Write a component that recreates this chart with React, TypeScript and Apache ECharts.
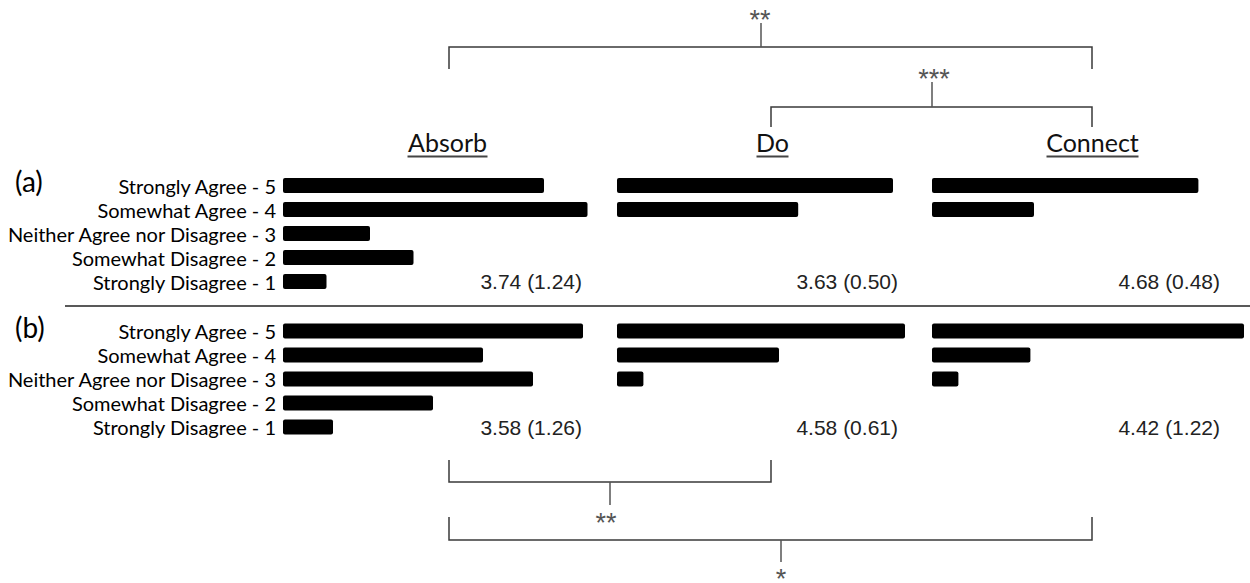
import React, { useEffect, useRef } from 'react';
import * as echarts from 'echarts';

// ---- data ----
const categories = [
  'Strongly Agree - 5',
  'Somewhat Agree - 4',
  'Neither Agree nor Disagree - 3',
  'Somewhat Disagree - 2',
  'Strongly Disagree - 1',
];
const panelNames = ['Absorb', 'Do', 'Connect'];
const rowLabels = ['(a)', '(b)'];
// responses per category
const absorbA = [6, 7, 2, 3, 1];
const doA = [11.5, 7.55, 0, 0, 0];
const connectA = [11.1, 4.25, 0, 0, 0];
const absorbB = [6, 4, 5, 3, 1];
const doB = [12, 6.75, 1.1, 0, 0];
const connectB = [13.5, 4.1, 1.1, 0, 0];
const statsA = ['3.74 (1.24)', '3.63 (0.50)', '4.68 (0.48)'];
const statsB = ['3.58 (1.26)', '4.58 (0.61)', '4.42 (1.22)'];
const sigTop = ['**', '***'];
const sigBottom = ['**', '*'];

// ---- layout ----
const panelLeft = [283, 617, 932];
const rowTop = [173.5, 319];
const rowHeight = 120;
const axisMax = [[8, 13, 13], [8, 13, 13]];
const gridWidth = [[348, 312, 312], [400, 312, 312]];
const statRight = [582, 898, 1220];
const statY = [281.5, 427];
const headX = [447.5, 772.5, 1092.5];
const headHalfW = [40, 16, 46];

const LINE = '#3a3a3a';

export default function App() {
  const ref = useRef<HTMLDivElement>(null);
  useEffect(() => {
    if (!ref.current) return;
    const chart = echarts.init(ref.current, undefined, { renderer: 'svg' });
    const rowsData = [
      [absorbA, doA, connectA],
      [absorbB, doB, connectB],
    ];
    const grids: any[] = [];
    const xAxes: any[] = [];
    const yAxes: any[] = [];
    const series: any[] = [];
    rowsData.forEach((row, r) => {
      row.forEach((vals, p) => {
        const idx = grids.length;
        grids.push({
          left: panelLeft[p],
          top: rowTop[r],
          width: gridWidth[r][p],
          height: rowHeight,
          containLabel: false,
        });
        xAxes.push({ type: 'value', gridIndex: idx, min: 0, max: axisMax[r][p], show: false });
        yAxes.push({
          type: 'category',
          gridIndex: idx,
          data: categories,
          inverse: true,
          axisLine: { show: false },
          axisTick: { show: false },
          splitLine: { show: false },
          axisLabel: {
            show: p === 0,
            interval: 0,
            hideOverlap: false,
            fontFamily: 'Lato',
            fontSize: 20,
            color: '#000',
            margin: 7,
          },
        });
        series.push({
          type: 'bar',
          xAxisIndex: idx,
          yAxisIndex: idx,
          data: vals.map((v) => (v > 0 ? v : null)),
          barWidth: 15,
          itemStyle: { color: '#000', borderRadius: 2 },
          silent: true,
        });
      });
    });

    const graphic: any[] = [];
    // row labels
    rowLabels.forEach((t, r) => {
      graphic.push({
        type: 'text',
        left: 15,
        top: r === 0 ? 167 : 313,
        style: { text: t, fontFamily: 'Lato', fontSize: 28, fill: '#000' },
      });
    });
    // headings with underline
    panelNames.forEach((t, i) => {
      graphic.push({
        type: 'text',
        x: headX[i],
        y: 154,
        style: {
          text: t,
          fontFamily: 'Lato',
          fontSize: 25,
          fill: '#111',
          textAlign: 'center',
          textVerticalAlign: 'bottom',
        },
      });
      graphic.push({
        type: 'line',
        shape: { x1: headX[i] - headHalfW[i], y1: 156.5, x2: headX[i] + headHalfW[i], y2: 156.5 },
        style: { stroke: '#444', lineWidth: 2 },
      });
    });
    // stats
    [statsA, statsB].forEach((arr, r) => {
      arr.forEach((t, p) => {
        graphic.push({
          type: 'text',
          x: statRight[p],
          y: statY[r],
          style: {
            text: t,
            fontFamily: 'Liberation Sans',
            fontSize: 21,
            fill: '#222',
            textAlign: 'right',
            textVerticalAlign: 'middle',
          },
        });
      });
    });
    // separator
    graphic.push({
      type: 'line',
      shape: { x1: 65, y1: 306, x2: 1250, y2: 306 },
      style: { stroke: '#222', lineWidth: 1.5 },
    });
    // brackets
    const bracket = (pts: number[][], stem: number[][]) => {
      graphic.push({ type: 'polyline', shape: { points: pts }, style: { stroke: LINE, lineWidth: 1.5, fill: 'none' } });
      graphic.push({
        type: 'line',
        shape: { x1: stem[0][0], y1: stem[0][1], x2: stem[1][0], y2: stem[1][1] },
        style: { stroke: '#555', lineWidth: 1.5 },
      });
    };
    // glyph centre of the asterisks is placed near (x, y)
    const star = (t: string, x: number, y: number) => {
      graphic.push({
        type: 'text',
        x,
        y: y + 6,
        style: {
          text: t,
          fontFamily: 'Liberation Sans',
          fontSize: 27,
          fill: '#555',
          textAlign: 'center',
          textVerticalAlign: 'middle',
          lineHeight: 6,
        },
      });
    };
    bracket([[449, 69], [449, 47], [1092, 47], [1092, 69]], [[761, 47], [761, 23]]);
    star(sigTop[0], 760, 14);
    bracket([[771, 127], [771, 107], [1092, 107], [1092, 127]], [[932, 107], [932, 82]]);
    star(sigTop[1], 934, 73);
    bracket([[449, 460], [449, 482], [771, 482], [771, 460]], [[610, 482], [610, 505]]);
    star(sigBottom[0], 606, 517);
    bracket([[449, 517], [449, 540], [1092, 540], [1092, 517]], [[781, 540], [781, 562]]);
    star(sigBottom[1], 781, 573);

    chart.setOption({
      animation: false,
      backgroundColor: '#fff',
      grid: grids,
      xAxis: xAxes,
      yAxis: yAxes,
      series,
      graphic,
    });
    return () => chart.dispose();
  }, []);
  return (
    <div
      ref={ref}
      style={{ position: 'fixed', left: 0, top: 0, width: 1250, height: 583 }}
    />
  );
}
